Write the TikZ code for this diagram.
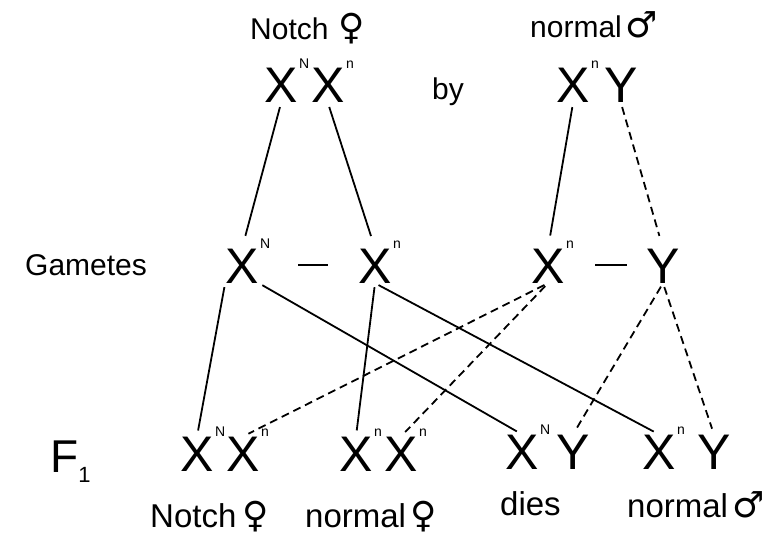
\documentclass[tikz,border=0pt]{standalone}
\usepackage{fontspec}
\setmainfont{Liberation Sans}
\newfontfamily\symfont{DejaVu Sans}
\newcommand{\fsym}{{\symfont\fontsize{36}{36}\selectfont ♀}}
\newcommand{\msym}{{\symfont\fontsize{36}{36}\selectfont ♂}}
\usetikzlibrary{positioning}

\begin{document}
\begin{tikzpicture}[
  x=1pt, y=-1pt,
  chrom/.style={font=\fontsize{50}{50}\selectfont, inner sep=0pt, anchor=base},
  sup/.style={font=\fontsize{14}{14}\selectfont, inner sep=0pt, anchor=base west, xshift=1pt, yshift=0pt},
  caption/.style={font=\fontsize{30}{36}\selectfont, inner sep=0pt, anchor=base west},
  pheno/.style={caption, font=\fontsize{33}{36}\selectfont},
  link/.style={line width=1.8pt, shorten <=4pt, shorten >=6pt},
  xlink/.style={link, dash pattern=on 8pt off 5pt}
]
\useasboundingbox (0,0) rectangle (781,545);

% Parents
\node[caption] (femaleLbl) at (250,40) {Notch\hspace{10pt}\fsym};
\node[caption] (maleLbl) at (530,38) {normal\hspace{4pt}\msym};
\node[chrom, label={[sup]north east:N}] (tXN) at (281,103) {X};
\node[chrom, label={[sup]north east:n}] (tXn) at (328,103) {X};
\node[caption] (byLbl) at (432,100) {by};
\node[chrom, label={[sup]north east:n}] (tXm) at (573,103) {X};
\node[chrom] (tY) at (621,103) {Y};

% Gametes
\node[caption] (gamLbl) at (25,276) {Gametes};
\node[chrom, label={[sup]north east:N}] (gXN) at (242,283) {X};
\node[inner sep=0pt] (gDashF) at (313,265) {\rule{30pt}{1.8pt}};
\node[chrom, label={[sup]north east:n}] (gXn) at (375,283) {X};
\node[chrom, label={[sup]north east:n}] (gXm) at (548,283) {X};
\node[inner sep=0pt] (gDashM) at (611,265) {\rule{32pt}{1.8pt}};
\node[chrom] (gY) at (663,283) {Y};

% F1 generation
\node[caption, font=\fontsize{46}{46}\selectfont] (fLbl) at (50,472) {F\raisebox{-10pt}{\fontsize{22}{22}\selectfont 1}};
\node[chrom, label={[sup]north east:N}] (fXN) at (197,471) {X};
\node[chrom, label={[sup]north east:n}] (fXn) at (243,471) {X};
\node[chrom, label={[sup]north east:n}] (fXnA) at (356,471) {X};
\node[chrom, label={[sup]north east:n}] (fXnB) at (401,471) {X};
\node[chrom, label={[sup]north east:N}] (fXNy) at (522,469) {X};
\node[chrom] (fYN) at (573,469) {Y};
\node[chrom, label={[sup]north east:n}] (fXny) at (659,469) {X};
\node[chrom] (fYn) at (714,469) {Y};

% Phenotypes
\node[pheno] (phA) at (150,527) {Notch\hspace{6pt}\fsym};
\node[pheno] (phB) at (305,527) {normal\hspace{4pt}\fsym};
\node[pheno] (phC) at (500,515) {dies};
\node[pheno] (phD) at (627,517) {normal\hspace{4pt}\msym};

% Parents to gametes
\draw[link, shorten >=13pt] (tXN.south) -- (gXN.north);
\draw[link, shorten >=13pt] (tXn.south) -- (gXn.north);
\draw[link, shorten >=13pt] (tXm.south) -- (gXm.north);
\draw[xlink, shorten >=13pt] (tY.south) -- (gY.north);

% Gametes to F1
\draw[link] (gXN.south west) -- (fXN.north);
\draw[link] (gXN.south east) -- (fXNy.north);
\draw[link] (gXn.south) -- (fXnA.north);
\draw[link] (gXn.south) -- (fXny.north);
\draw[xlink] (gXm.south) -- (fXn.north);
\draw[xlink] (gXm.south) -- (fXnB.north);
\draw[xlink] (gY.south) -- (fYN.north);
\draw[xlink] (gY.south) -- (fYn.north);

\end{tikzpicture}
\end{document}
